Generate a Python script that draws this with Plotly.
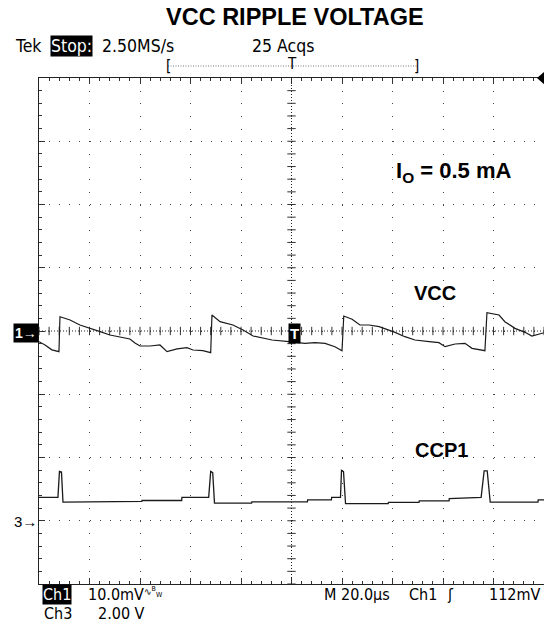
import numpy as np
import plotly.graph_objects as go

# ---------------- data ----------------
# time axis in microseconds from the left edge of the screen (20 us/div)
t_vcc = [0, 2.4, 5.1, 7.9, 8.3, 12.3, 16.2, 20.2, 24.2, 28.1, 32.1, 36.0, 38.0, 40.0,
         44.0, 47.9, 50.7, 54.7, 58.6, 61.0, 64.9, 67.3, 68.0, 68.5, 71.7, 76.8, 80.8,
         84.8, 90.3, 92.3, 99.0, 105.3, 109.3, 113.3, 117.2, 120.0, 120.7, 124.0, 127.1,
         130.7, 134.7, 137.8, 141.0, 144.9, 148.9, 154.5, 158.4, 160.8, 164.8, 168.7,
         171.5, 176.6, 177.4, 182.2, 184.5, 188.5, 192.5, 195.2, 198.0, 200.0]
# VCC ripple, mV relative to channel-1 reference (10 mV/div)
vcc_mv = [-1.69, -2.21, -2.98, -3.27, 2.26, 1.74, 0.95, 0.47, -0.10, -0.63, -0.90, -1.26,
          -1.90, -2.37, -2.37, -2.21, -3.27, -2.84, -2.64, -3.00, -3.11, -3.43, -3.43, 2.53,
          1.47, 0.95, 0.16, -0.79, -1.31, -1.42, -1.69, -1.95, -1.85, -1.95, -2.48, -3.11,
          2.37, 1.85, 0.95, 0.95, 0.68, 0.27, -0.21, -0.90, -1.42, -1.69, -1.85, -2.48,
          -2.05, -1.95, -2.74, -3.11, 2.89, 2.53, 1.47, 0.42, -0.21, -0.79, -0.53, -0.27]

t_ccp = [0, 7.5, 8.1, 8.9, 9.5, 22.9, 23.0, 40.7, 40.8, 56.5, 56.6, 67.2, 68.0, 68.8,
         69.5, 84.2, 84.3, 106.3, 106.4, 115.8, 115.9, 119.4, 119.8, 120.6, 121.4, 138.3,
         138.4, 150.5, 150.6, 162.4, 162.5, 175.1, 176.3, 177.5, 178.7, 197.6, 197.7, 200.0]
# CCP1, volts relative to channel-3 reference (2 V/div)
ccp_v = [0.74, 0.74, 1.56, 1.54, 0.59, 0.59, 0.61, 0.61, 0.64, 0.64, 0.74, 0.74, 1.56, 1.52,
         0.56, 0.56, 0.60, 0.60, 0.66, 0.66, 0.74, 0.74, 1.59, 1.55, 0.54, 0.54, 0.58, 0.58,
         0.63, 0.63, 0.70, 0.74, 1.58, 1.58, 0.59, 0.59, 0.66, 0.66]

ch1_scale = 10.0   # mV/div
ch3_scale = 2.0    # V/div
ch3_offset = -3.0  # div

# ---------------- helpers for pixel-positioned decorations ----------------
L, T_, W, H = 39, 78, 505, 506
def PX(x):
    return (x - L) / W
def PY(y):
    return (T_ + H - y) / H

TEK = "DejaVu Sans Condensed, Liberation Sans Narrow, sans-serif"
BOLD = "Liberation Sans, Arial, sans-serif"

fig = go.Figure()

# centre cross-hair tick marks
fig.add_trace(go.Scatter(x=np.arange(0, 200.01, 4), y=np.zeros(51), mode="markers",
                         marker=dict(symbol="line-ns-open", size=6, color="#333",
                                     line=dict(color="#333", width=1)),
                         hoverinfo="skip", showlegend=False, cliponaxis=False))
fig.add_trace(go.Scatter(x=np.full(41, 100.0), y=np.arange(-4, 4.001, 0.2), mode="markers",
                         marker=dict(symbol="line-ew-open", size=6, color="#333",
                                     line=dict(color="#333", width=1)),
                         hoverinfo="skip", showlegend=False, cliponaxis=False))

# traces
fig.add_trace(go.Scatter(x=t_vcc, y=[v / ch1_scale for v in vcc_mv], mode="lines",
                         line=dict(color="#1a1a1a", width=1.2), showlegend=False, name="VCC"))
fig.add_trace(go.Scatter(x=t_ccp, y=[v / ch3_scale + ch3_offset for v in ccp_v], mode="lines",
                         line=dict(color="#1a1a1a", width=1.3), showlegend=False, name="CCP1"))

shapes = [
    dict(type="line", xref="x", yref="y", x0=0, x1=200, y0=0, y1=0,
         line=dict(color="#222", width=1, dash="1px,2px")),
    dict(type="line", xref="x", yref="y", x0=100, x1=100, y0=-4, y1=4,
         line=dict(color="#222", width=1, dash="1px,2px")),
    # acquisition bracket dotted line
    dict(type="line", xref="paper", yref="paper", x0=PX(168), x1=PX(417), y0=PY(66), y1=PY(66),
         line=dict(color="#777", width=1, dash="1px,1.5px")),
    # trigger level arrow at top right
    dict(type="path", xref="paper", yref="paper",
         path=f"M {PX(545)},{PY(71)} L {PX(537)},{PY(78)} L {PX(545)},{PY(85)} Z",
         fillcolor="black", line=dict(color="black", width=0)),
]

ann = []
def txt(x, y, s, size, font=TEK, color="black", bg=None, xanchor="left", pad=0):
    d = dict(xref="paper", yref="paper", x=PX(x), y=PY(y), text=s, showarrow=False,
             xanchor=xanchor, yanchor="middle", font=dict(family=font, size=size, color=color),
             borderpad=pad)
    if bg:
        d["bgcolor"] = bg
    ann.append(d)

txt(295, 17, "<b>VCC RIPPLE VOLTAGE</b>", 23.5, font=BOLD, xanchor="center")
txt(14, 46, "Tek", 17.5)
txt(50, 46, "Stop:", 17.5, color="white", bg="black")
txt(101, 46, "2.50MS/s", 17.5)
txt(251, 46, "25 Acqs", 17.5)
txt(165, 66, "[", 15)
txt(420, 66, "]", 15, xanchor="right")
txt(292, 64, "T", 15, xanchor="center")

txt(395, 172, "<b>I<sub>O</sub> = 0.5 mA</b>", 22, font=BOLD)
txt(413, 293, "<b>VCC</b>", 20, font=BOLD)
txt(414, 450, "<b>CCP1</b>", 20, font=BOLD)

txt(39, 333, "<b>1→</b>", 14, font=BOLD, color="white", bg="black", xanchor="right", pad=1)
txt(38, 521, "3→", 15, font=BOLD, xanchor="right")
txt(294, 333, "<b>T</b>", 15, font=BOLD, color="white", bg="black", xanchor="center", pad=1)

txt(42, 594, "Ch1", 16, color="white", bg="black")
txt(87, 594, "10.0mV", 16)
txt(143, 592, "∿<sup>B</sup><sub>W</sub>", 10)
txt(43, 613, "Ch3", 16)
txt(97, 613, "2.00 V", 16)
txt(323, 594, "M 20.0µs", 16)
txt(408, 594, "Ch1", 16)
txt(446, 594, "ʃ", 16)
txt(541, 594, "112mV", 16, xanchor="right")

fig.update_layout(
    width=544, height=624,
    margin=dict(l=L, r=0, t=T_, b=624 - T_ - H),
    paper_bgcolor="white", plot_bgcolor="white",
    shapes=shapes, annotations=ann, showlegend=False,
    xaxis=dict(range=[0, 200], dtick=20, tick0=0, showticklabels=False, zeroline=False,
               showgrid=True, gridcolor="#444", gridwidth=1, griddash="1px,11.65px",
               showline=True, linecolor="#222", linewidth=1.2, mirror="allticks",
               ticks="inside", ticklen=6, tickcolor="#333",
               minor=dict(dtick=4, tick0=0, ticks="inside", ticklen=3, tickcolor="#333", showgrid=False),
               fixedrange=True),
    yaxis=dict(range=[-4, 4], dtick=1, tick0=0, showticklabels=False, zeroline=False,
               showgrid=True, gridcolor="#444", gridwidth=1, griddash="1px,9.1px",
               showline=True, linecolor="#222", linewidth=1.2, mirror=False,
               ticks="inside", ticklen=6, tickcolor="#333",
               minor=dict(dtick=0.2, tick0=0, ticks="inside", ticklen=3, tickcolor="#333", showgrid=False),
               fixedrange=True),
)

fig.write_html("out.html", config={"displayModeBar": False},
               post_script="document.body.style.margin='0px';document.body.style.overflow='hidden';")

# remove the default page margin so the figure sits at the window's top-left corner
with open("out.html", "r", encoding="utf-8") as f:
    html = f.read()
html = html.replace("<head>", "<head><style>html,body{margin:0;padding:0;overflow:hidden;}</style>", 1)
with open("out.html", "w", encoding="utf-8") as f:
    f.write(html)
